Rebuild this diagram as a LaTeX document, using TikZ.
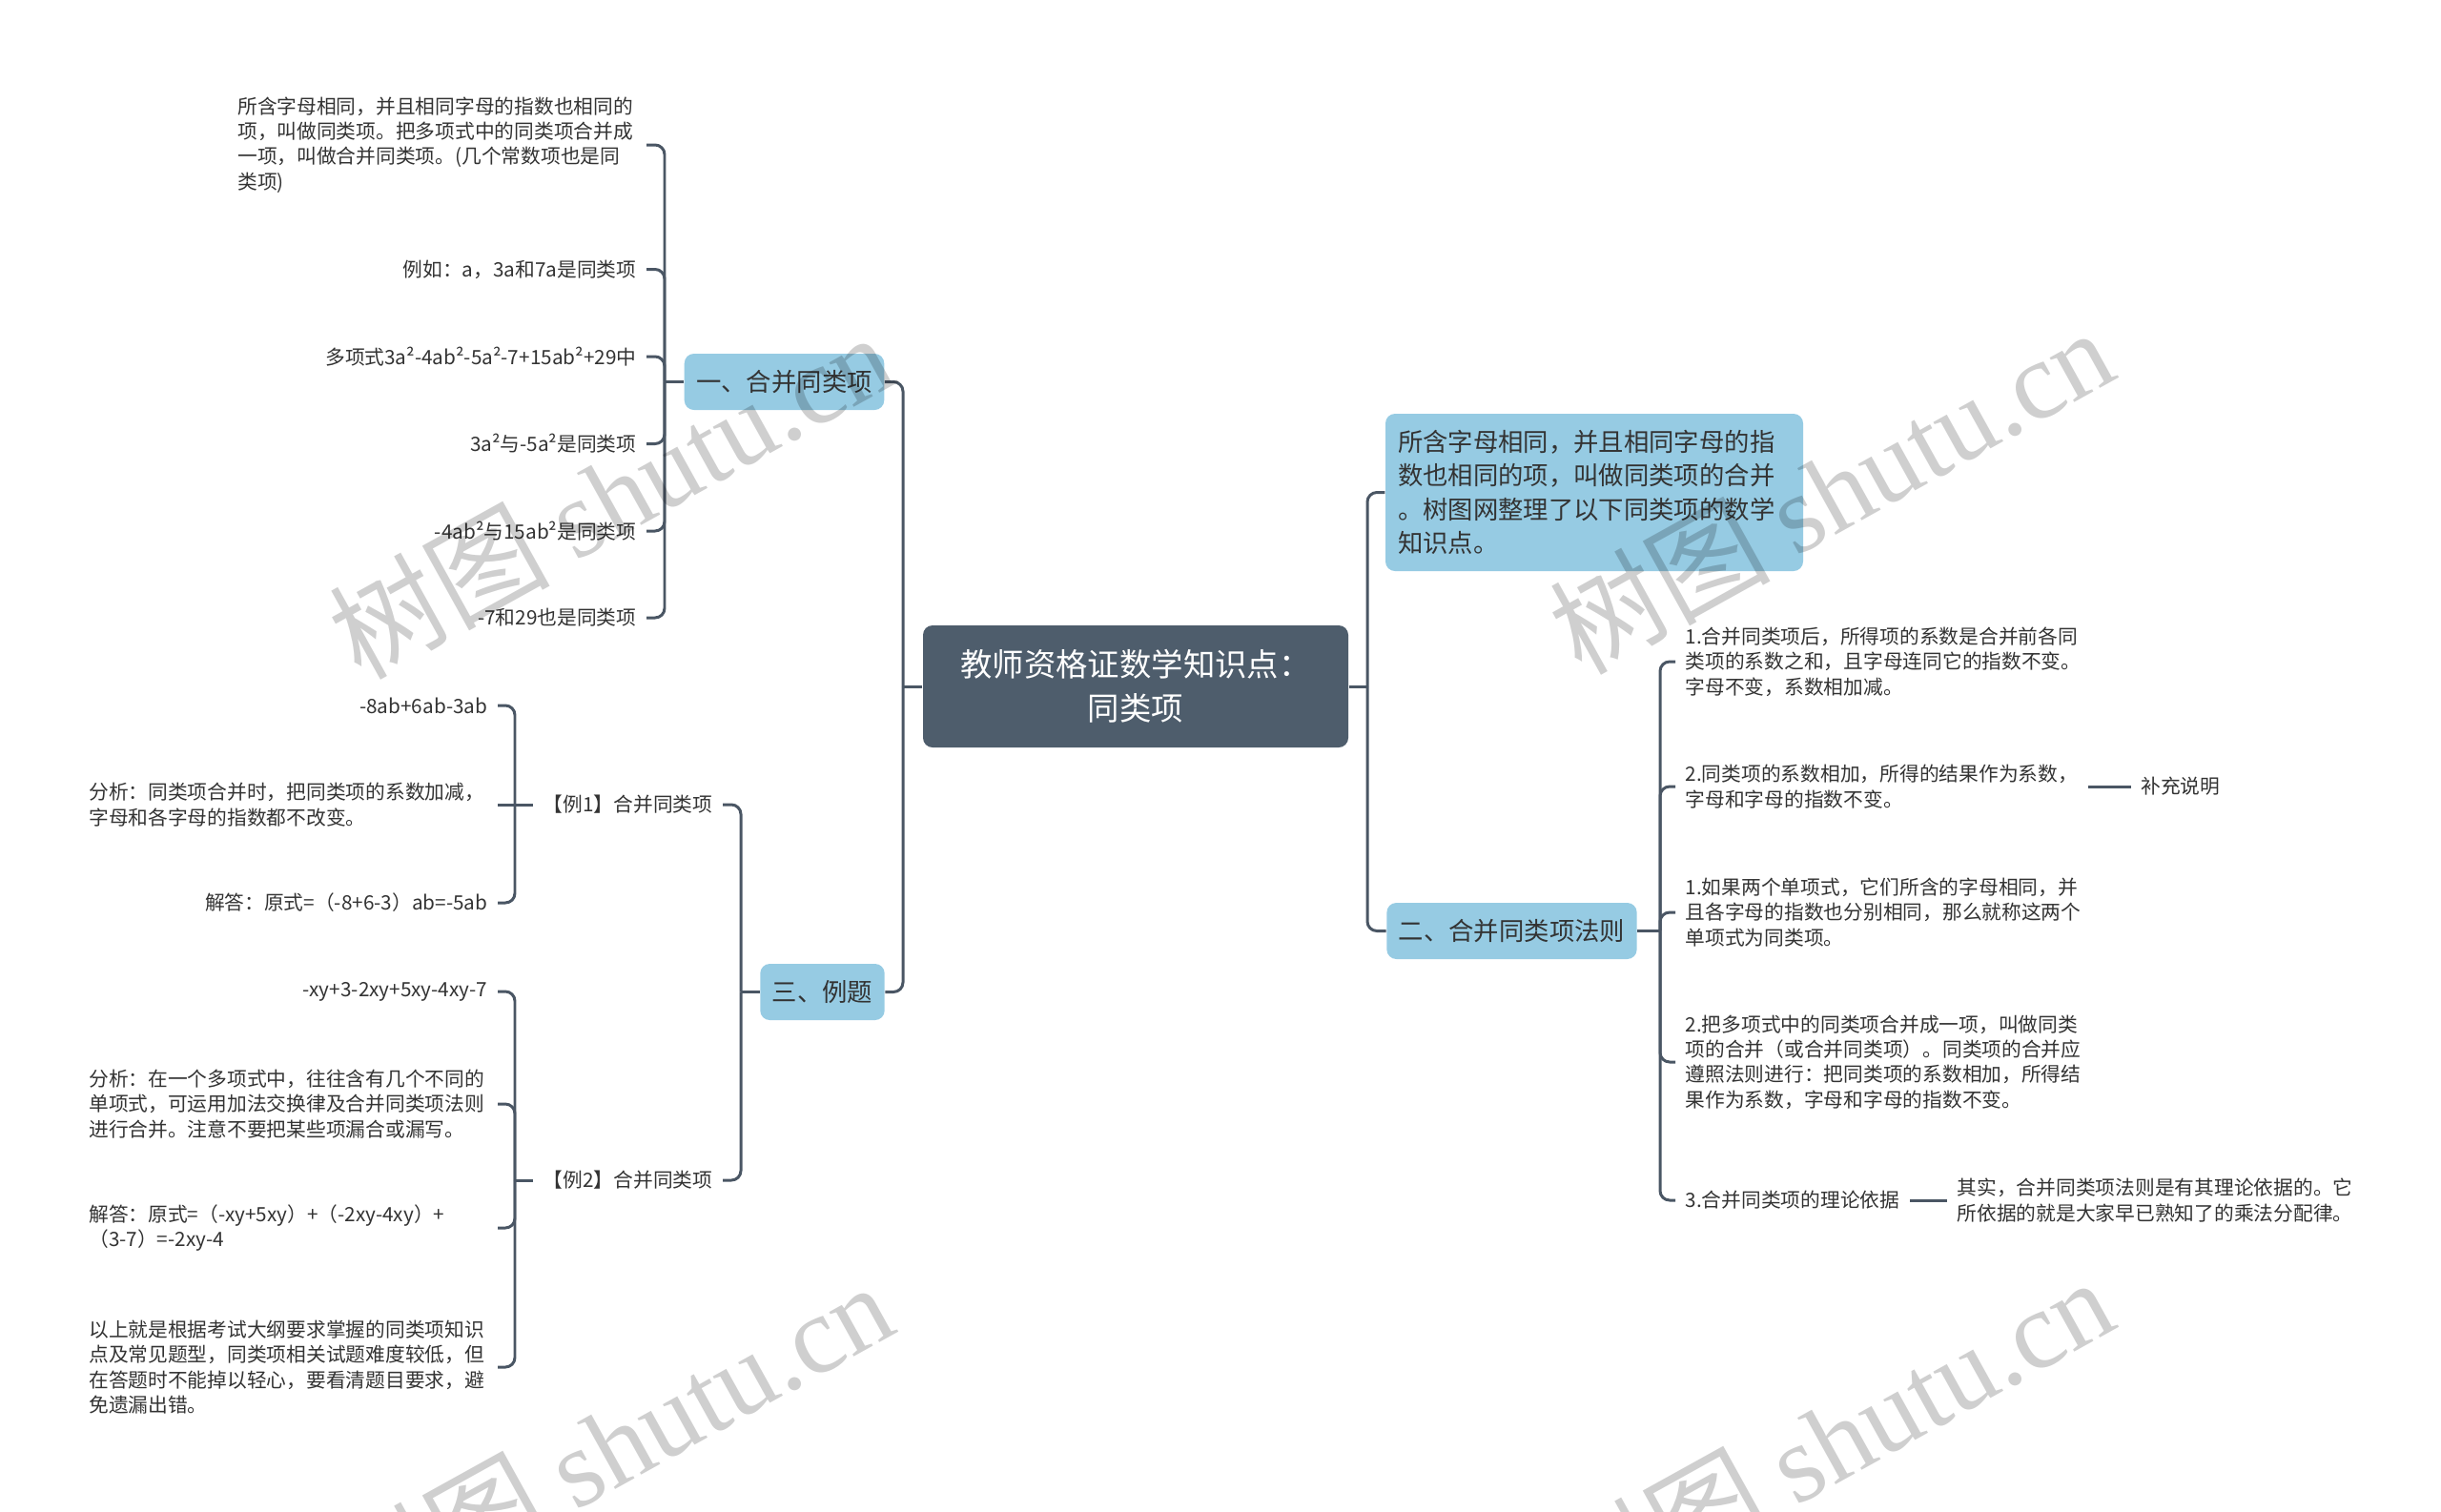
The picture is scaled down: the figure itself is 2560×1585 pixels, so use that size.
\documentclass[tikz,border=0pt]{standalone}
\usepackage{fontspec}
\setmainfont{Noto Sans CJK SC}
\newfontfamily\wmlatin{Liberation Serif}
\usepackage{tikz}
\usetikzlibrary{positioning}

\definecolor{rootfill}{HTML}{4E5D6C}
\definecolor{topicfill}{HTML}{96CBE3}
\definecolor{linkc}{HTML}{4A5664}
\definecolor{textc}{HTML}{333333}

\begin{document}
\begin{tikzpicture}[
  x=0.1mm, y=-0.1mm,
  font=\fontsize{5.9pt}{7.5pt}\selectfont,
  rootbox/.style={fill=rootfill, text=white, rounded corners=1mm, align=center, minimum width=44.6mm, minimum height=12.8mm, font=\fontsize{9.5pt}{13pt}\selectfont},
  topic/.style={fill=topicfill, text=textc, rounded corners=1mm, minimum height=5.9mm, inner xsep=1.25mm, font=\fontsize{7.5pt}{10.1pt}\selectfont},
  leaf/.style={text=textc, inner xsep=1mm, inner ysep=0.5mm},
  leafwide/.style={leaf, text width=41.8mm, align=left},
  link/.style={draw=linkc, line width=0.85pt, rounded corners=1mm},
  wmark/.style={rotate=29, text=black, text opacity=0.19, font=\fontsize{33pt}{33pt}\selectfont}
]
\clip (0,0) rectangle (2560,1585);

\node[rootbox] (root) at (1191,720) {教师资格证数学知识点：\\同类项};
\node[topic] (t1) at (822.5,400.5) {一、合并同类项};
\node[topic] (t3) at (862.5,1040.5) {三、例题};
\node[topic, text width=41.2mm, align=left, minimum height=16.5mm, inner xsep=1.3mm] (intro) at (1672,516.5) {所含字母相同，并且相同字母的指\\数也相同的项，叫做同类项的合并\\。树图网整理了以下同类项的数学\\知识点。};
\node[topic] (t2) at (1585.5,976.5) {二、合并同类项法则};

\node[leafwide, anchor=east] (d1) at (678,152) {所含字母相同，并且相同字母的指数也相同的\\项，叫做同类项。把多项式中的同类项合并成\\一项，叫做合并同类项。(几个常数项也是同\\类项)};
\node[leaf, anchor=east] (d2) at (678,282.5) {例如：a，3a和7a是同类项};
\node[leaf, anchor=east] (d3) at (678,374) {多项式3a²-4ab²-5a²-7+15ab²+29中};
\node[leaf, anchor=east] (d4) at (678,465.5) {3a²与-5a²是同类项};
\node[leaf, anchor=east] (d5) at (678,557) {-4ab²与15ab²是同类项};
\node[leaf, anchor=east] (d6) at (678,648) {-7和29也是同类项};

\node[leaf, anchor=east] (ex1) at (758,844) {【例1】合并同类项};
\node[leaf, anchor=east] (ex2) at (758,1238) {【例2】合并同类项};

\node[leaf, anchor=east] (e11) at (522,740) {-8ab+6ab-3ab};
\node[leafwide, anchor=east] (e12) at (522,844) {分析：同类项合并时，把同类项的系数加减，\\字母和各字母的指数都不改变。};
\node[leaf, anchor=east] (e13) at (522,947) {解答：原式=（-8+6-3）ab=-5ab};

\node[leaf, anchor=east] (e21) at (522,1040) {-xy+3-2xy+5xy-4xy-7};
\node[leafwide, anchor=east] (e22) at (522,1158) {分析：在一个多项式中，往往含有几个不同的\\单项式，可运用加法交换律及合并同类项法则\\进行合并。注意不要把某些项漏合或漏写。};
\node[leafwide, anchor=east] (e23) at (522,1288) {解答：原式=（-xy+5xy）+（-2xy-4xy）+\\（3-7）=-2xy-4};
\node[leafwide, anchor=east] (e24) at (522,1434) {以上就是根据考试大纲要求掌握的同类项知识\\点及常见题型，同类项相关试题难度较低，但\\在答题时不能掉以轻心，要看清题目要求，避\\免遗漏出错。};

\node[leaf, anchor=west, align=left] (r1) at (1757,694) {1.合并同类项后，所得项的系数是合并前各同\\类项的系数之和，且字母连同它的指数不变。\\字母不变，系数相加减。};
\node[leaf, anchor=west, align=left] (r2) at (1757,825) {2.同类项的系数相加，所得的结果作为系数，\\字母和字母的指数不变。};
\node[leaf, right=4.5mm of r2] (r2n) {补充说明};
\node[leaf, anchor=west, align=left] (r3) at (1757,957) {1.如果两个单项式，它们所含的字母相同，并\\且各字母的指数也分别相同，那么就称这两个\\单项式为同类项。};
\node[leaf, anchor=west, align=left] (r4) at (1757,1114) {2.把多项式中的同类项合并成一项，叫做同类\\项的合并（或合并同类项）。同类项的合并应\\遵照法则进行：把同类项的系数相加，所得结\\果作为系数，字母和字母的指数不变。};
\node[leaf, anchor=west] (r5) at (1757,1259) {3.合并同类项的理论依据};
\node[leaf, right=3.9mm of r5, align=left] (r5n) {其实，合并同类项法则是有其理论依据的。它\\所依据的就是大家早已熟知了的乘法分配律。};

\coordinate (jl) at (947,720);
\coordinate (jr) at (1434,720);
\coordinate (j1) at (697,400.5);
\coordinate (j3) at (777,1040.5);
\coordinate (je1) at (540,844);
\coordinate (je2) at (540,1238);
\coordinate (j2) at (1741,976.5);

\draw[link] (root.west) -- (jl);
\draw[link] (jl) |- (t1.east);
\draw[link] (jl) |- (t3.east);
\draw[link] (root.east) -- (jr);
\draw[link] (jr) |- (intro.west);
\draw[link] (jr) |- (t2.west);

\draw[link] (t1.west) -- (j1);
\foreach \c in {d1,d2,d3,d4,d5,d6}
  \draw[link] (j1) |- (\c.east);

\draw[link] (t3.west) -- (j3);
\draw[link] (j3) |- (ex1.east);
\draw[link] (j3) |- (ex2.east);
\draw[link] (ex1.west) -- (je1);
\draw[link] (je1) |- (e11.east);
\draw[link] (je1) -- (e12.east);
\draw[link] (je1) |- (e13.east);
\draw[link] (ex2.west) -- (je2);
\foreach \c in {e21,e22,e23,e24}
  \draw[link] (je2) |- (\c.east);

\draw[link] (t2.east) -- (j2);
\foreach \c in {r1,r2,r3,r4,r5}
  \draw[link] (j2) |- (\c.west);
\draw[link] (r2.east) -- (r2n.west);
\draw[link] (r5.east) -- (r5n.west);

\node[wmark] (wm1) at (640,519) {树图 {\wmlatin shutu.cn}};
\node[wmark] (wm2) at (1920,514) {树图 {\wmlatin shutu.cn}};
\node[wmark] (wm3) at (640,1515) {树图 {\wmlatin shutu.cn}};
\node[wmark] (wm4) at (1920,1510) {树图 {\wmlatin shutu.cn}};
\end{tikzpicture}
\end{document}
